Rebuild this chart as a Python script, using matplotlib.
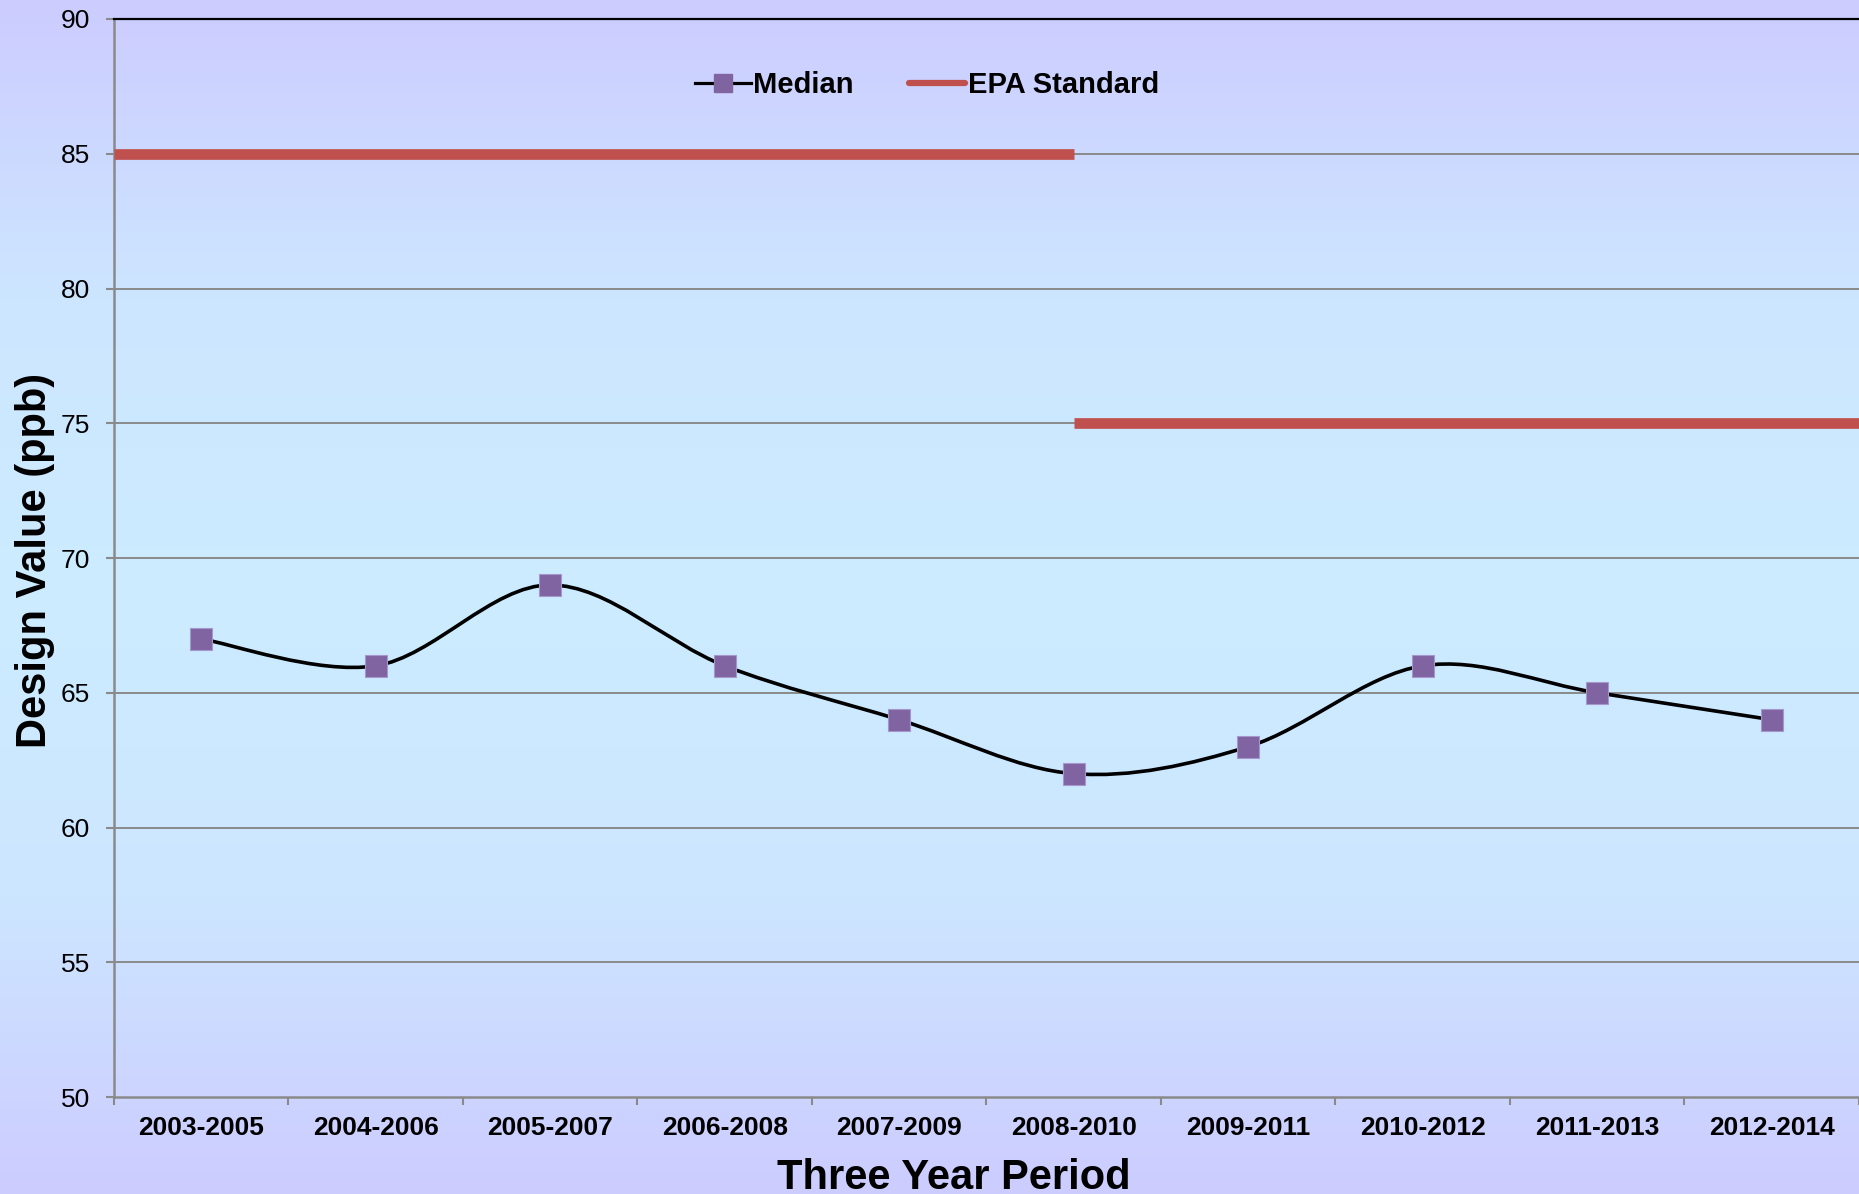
import numpy as np
import matplotlib.pyplot as plt
from matplotlib.path import Path
from matplotlib.patches import PathPatch
from matplotlib.lines import Line2D
from matplotlib.colors import LinearSegmentedColormap

plt.rcParams['font.family'] = ['Liberation Sans', 'DejaVu Sans']

# data
periods = ["2003-2005", "2004-2006", "2005-2007", "2006-2008", "2007-2009",
           "2008-2010", "2009-2011", "2010-2012", "2011-2013", "2012-2014"]
median = [67, 66, 69, 66, 64, 62, 63, 66, 65, 64]
epa_old = 85      # standard up to 2008-2010
epa_new = 75      # standard from 2008-2010 on
epa_switch = 5    # index of the period where the standard changes
yticks = [50, 55, 60, 65, 70, 75, 80, 85, 90]

grid_col = "#8a8a8a"
red = "#c0504d"
purple = "#8064a2"

fig = plt.figure(figsize=(18.59, 11.94), dpi=100)

# background gradient, lavender -> light blue -> lavender
bg = fig.add_axes([0, 0, 1, 1], zorder=-10)
bg.axis("off")
cmap = LinearSegmentedColormap.from_list("bg", ["#ccccff", "#cce6ff", "#ccecff", "#cce6ff", "#ccccff"])
bg.imshow(np.linspace(0, 1, 256).reshape(-1, 1), aspect="auto", cmap=cmap,
          extent=[0, 1, 0, 1])

ax = fig.add_axes([0.0613, 0.0812, 0.9387, 0.9029])
ax.set_facecolor("none")

x = np.arange(len(periods))

# smoothed line (Excel style bezier through the points)
pts = np.column_stack([x, median]).astype(float)
ext = np.vstack([pts[0], pts, pts[-1]])
verts = [tuple(pts[0])]
codes = [Path.MOVETO]
for i in range(len(pts) - 1):
    p0, p1, p2, p3 = ext[i], ext[i + 1], ext[i + 2], ext[i + 3]
    c1 = p1 + (p2 - p0) / 6
    c2 = p2 - (p3 - p1) / 6
    verts += [tuple(c1), tuple(c2), tuple(p2)]
    codes += [Path.CURVE4] * 3
ax.add_patch(PathPatch(Path(verts, codes), facecolor="none", edgecolor="black",
                       lw=2.6, zorder=4, capstyle="round"))
ax.plot(x, median, "s", color=purple, markersize=16.5, markeredgecolor="#a597cc",
        markeredgewidth=0.8, zorder=5, clip_on=False)

# EPA standard
ax.plot([-0.5, epa_switch], [epa_old, epa_old], color=red, lw=7.7,
        solid_capstyle="butt", zorder=3)
ax.plot([epa_switch, len(periods) - 0.5], [epa_new, epa_new], color=red, lw=7.7,
        solid_capstyle="butt", zorder=3)

ax.set_xlim(-0.5, len(periods) - 0.5)
ax.set_ylim(50, 90)
ax.set_yticks(yticks)
ax.set_yticklabels([str(v) for v in yticks], fontsize=19)
ax.tick_params(axis="y", length=6, width=1.5, color=grid_col, pad=11)

ax.set_xticks(x)
ax.set_xticklabels(periods, fontsize=19, fontweight="bold")
ax.tick_params(axis="x", which="major", length=0, pad=14)
ax.set_xticks(np.arange(-0.5, len(periods)), minor=True)
ax.tick_params(axis="x", which="minor", length=6, width=1.5, color=grid_col)

for v in yticks[1:-1]:
    ax.axhline(v, color=grid_col, lw=1.4, zorder=1)

for s in ["left", "bottom"]:
    ax.spines[s].set_color(grid_col)
    ax.spines[s].set_linewidth(1.8)
ax.spines["top"].set_color("black")
ax.spines["top"].set_linewidth(1.6)
ax.spines["right"].set_visible(False)

fig.text(0.513, 0.0045, "Three Year Period", fontsize=30, fontweight="bold",
         ha="center", va="baseline")
fig.text(0.019, 0.531, "Design Value (ppb)", fontsize=30, fontweight="bold",
         rotation=90, ha="center", va="center")

handles = [
    Line2D([], [], color="black", lw=2.3, marker="s", markersize=12.5,
           markerfacecolor=purple, markeredgecolor=purple),
    Line2D([], [], color=red, lw=4.5, solid_capstyle="round"),
]
fig.legend(handles, ["Median", "EPA Standard"], loc="center",
           bbox_to_anchor=(0.4987, 0.929), ncol=2, frameon=False,
           prop={"size": 21, "weight": "bold"}, handlelength=1.9,
           handletextpad=0.1, columnspacing=1.9)

fig.savefig("out.png", dpi=100)
